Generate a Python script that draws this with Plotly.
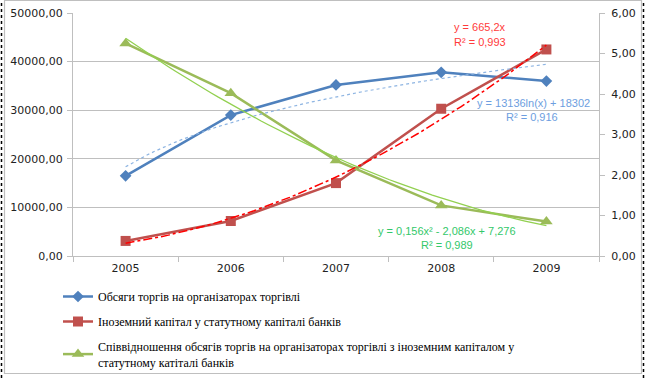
import numpy as np
import plotly.graph_objects as go

years = ["2005", "2006", "2007", "2008", "2009"]
trading_volume = [16500, 29000, 35200, 37800, 36000]
foreign_capital = [3100, 7200, 15000, 30300, 42500]
ratio = [5.25, 4.02, 2.36, 1.25, 0.85]

left_ticks = [0, 10000, 20000, 30000, 40000, 50000]
right_ticks = [0, 1, 2, 3, 4, 5, 6]

names = [
    "Обсяги торгів на організаторах торгівлі",
    "Іноземний капітал у статутному капіталі банків",
    "Співвідношення обсягів торгів на організаторах торгівлі з іноземним капіталом у<br>статутному катіталі банків",
]

# trendlines fitted from the series (as the spreadsheet does)
idx = np.arange(1, len(years) + 1)
xs = np.linspace(1, len(years), 60)
bl = np.polyfit(np.log(idx), trading_volume, 1)
blue_trend = bl[0] * np.log(xs) + bl[1]
rq = np.polyfit(idx, foreign_capital, 2)
red_trend = np.polyval(rq, xs)
gq = np.polyfit(idx, ratio, 2)
green_trend = np.polyval(gq, xs)

BLUE = "#4f81bd"
RED = "#c0504d"
GREEN = "#9bbb59"

fig = go.Figure()

# trendlines on a hidden numeric x axis
fig.add_trace(go.Scatter(x=xs, y=blue_trend, xaxis="x2", yaxis="y", mode="lines",
                         line=dict(color="#8db4e2", width=1.2, dash="dot"), showlegend=False, hoverinfo="skip"))
fig.add_trace(go.Scatter(x=xs, y=red_trend, xaxis="x2", yaxis="y", mode="lines",
                         line=dict(color="#ff0000", width=1.5, dash="dashdot"), showlegend=False, hoverinfo="skip"))
fig.add_trace(go.Scatter(x=xs, y=green_trend, xaxis="x2", yaxis="y2", mode="lines",
                         line=dict(color="#92d050", width=1.3), showlegend=False, hoverinfo="skip"))

fig.add_trace(go.Scatter(x=years, y=trading_volume, name=names[0], legendgroup="a", mode="lines+markers",
                         line=dict(color=BLUE, width=2.5), marker=dict(symbol="diamond", size=9, color=BLUE)))
fig.add_trace(go.Scatter(x=years, y=foreign_capital, name=names[1], legendgroup="b", mode="lines+markers",
                         line=dict(color=RED, width=2.5), marker=dict(symbol="square", size=10, color=RED)))
fig.add_trace(go.Scatter(x=years, y=ratio, name=names[2], legendgroup="c", yaxis="y2", mode="lines+markers",
                         line=dict(color=GREEN, width=2.5), marker=dict(symbol="triangle-up", size=11, color=GREEN)))

L, R, T, B = 73, 599, 13, 256
W, H = R - L, B - T


def px(x):
    return (x - L) / W


def py(y):
    return (B - y) / H


tickfont = dict(family="DejaVu Sans", size=11, color="#222222")
ann_font = "Liberation Sans"
AS = 11
RED_T = "#ff3b3b"
BLUE_T = "#6d9ee0"
GREEN_T = "#33c86a"


def ann(x, y, text, color, anchor="center"):
    return dict(x=px(x), y=py(y), xref="paper", yref="paper", text=text, showarrow=False,
                xanchor=anchor, yanchor="middle", font=dict(family=ann_font, size=AS, color=color))


fig.update_layout(
    width=645, height=378,
    margin=dict(l=L, r=645 - R, t=T, b=378 - B, autoexpand=False),
    paper_bgcolor="white", plot_bgcolor="white",
    separators=", ",
    showlegend=True,
    xaxis=dict(type="category", tickson="boundaries", ticks="outside", ticklen=5, tickcolor="#bfbfbf",
               showline=True, linecolor="#bfbfbf", linewidth=1, showgrid=False, tickfont=tickfont,
               range=[-0.5, 4.5], fixedrange=True, ticklabelstandoff=2),
    xaxis2=dict(overlaying="x", range=[0.5, 5.5], visible=False),
    yaxis=dict(range=[0, 50000], tickvals=left_ticks, tickformat=".2f", ticks="outside", ticklen=5,
               tickcolor="#bfbfbf", showline=True, linecolor="#bfbfbf", linewidth=1, showgrid=True,
               gridcolor="#bfbfbf", gridwidth=1, tickfont=tickfont, zeroline=False, ticklabelstandoff=2),
    yaxis2=dict(range=[0, 6], tickvals=right_ticks, tickformat=".2f", overlaying="y", side="right",
                ticks="outside", ticklen=5, tickcolor="#bfbfbf", showline=True, linecolor="#bfbfbf",
                linewidth=1, showgrid=False, tickfont=tickfont, zeroline=False, ticklabelstandoff=4),
    legend=dict(x=px(58), y=py(282), xanchor="left", yanchor="top", orientation="v",
                font=dict(family="Liberation Serif", size=12, color="black"),
                tracegroupgap=6, itemwidth=30, bgcolor="rgba(0,0,0,0)"),
    annotations=[
        ann(480, 27, "y = 665,2x", RED_T),
        ann(480, 42, "R² = 0,993", RED_T),
        ann(592, 103, "y = 13136ln(x) + 18302", BLUE_T, "right"),
        ann(532, 117, "R² = 0,916", BLUE_T),
        ann(447, 231, "y = 0,156x² - 2,086x + 7,276", GREEN_T),
        ann(447, 245, "R² = 0,989", GREEN_T),
    ],
    shapes=[
        dict(type="rect", xref="paper", yref="paper", x0=px(4.5), x1=px(641.5), y0=py(373.5), y1=py(0.5),
             line=dict(color="#bfbfbf", width=1.2)),
        dict(type="line", xref="paper", yref="paper", x0=px(1.5), x1=px(1.5), y0=py(378), y1=py(0),
             line=dict(color="black", width=1.5, dash="dot")),
        dict(type="line", xref="paper", yref="paper", x0=px(643.5), x1=px(643.5), y0=py(378), y1=py(0),
             line=dict(color="black", width=1.5, dash="dot")),
    ],
)

fig.write_html("out.html", config={"displayModeBar": False},
               post_script="document.body.style.margin='0px';document.body.style.padding='0px';")
